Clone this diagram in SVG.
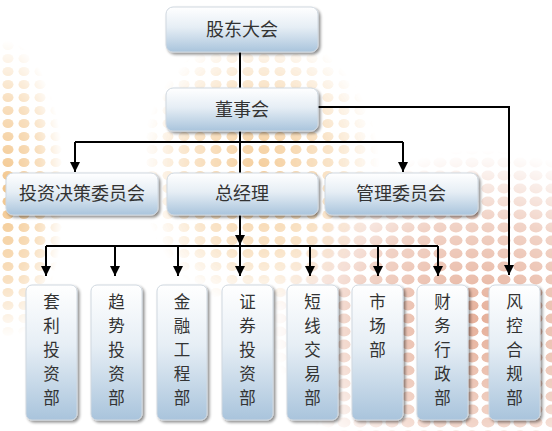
<svg xmlns="http://www.w3.org/2000/svg" width="552" height="431" viewBox="0 0 552 431">
<style>
.box{fill:url(#g);stroke:#d0d8e0;stroke-width:1;filter:url(#sh)}
.t{font-family:"Noto Sans CJK SC","Noto Sans CJK JP",sans-serif;font-size:18px;fill:#333;text-anchor:middle}
.v{font-family:"Noto Sans CJK SC","Noto Sans CJK JP",sans-serif;font-size:16.5px;fill:#333;text-anchor:middle}
.ln{fill:none;stroke:#000;stroke-width:2}
</style>
<defs>
<linearGradient id="g" x1="0" y1="0" x2="0" y2="1">
<stop offset="0" stop-color="#ffffff"/>
<stop offset="0.45" stop-color="#e6eef5"/>
<stop offset="1" stop-color="#a9c4dc"/>
</linearGradient>
<filter id="sh" x="-20%" y="-20%" width="150%" height="150%">
<feGaussianBlur in="SourceAlpha" stdDeviation="1.5"/>
<feOffset dx="2" dy="2" result="o"/>
<feComponentTransfer><feFuncA type="linear" slope="0.45"/></feComponentTransfer>
<feMerge><feMergeNode/><feMergeNode in="SourceGraphic"/></feMerge>
</filter>
<marker id="ar" viewBox="0 0 10 10" refX="10" refY="5" markerWidth="5" markerHeight="5" orient="auto">
<path d="M0,0 L10,5 L0,10 z" fill="#000"/>
</marker>
<pattern id="dotsO" width="16" height="13" patternUnits="userSpaceOnUse">
<ellipse cx="8" cy="6.5" rx="5.5" ry="4.5" fill="#f3c68c"/>
</pattern>
<pattern id="dotsP" width="16" height="13" patternUnits="userSpaceOnUse">
<ellipse cx="8" cy="6.5" rx="6.5" ry="5" fill="#e6b09a"/>
</pattern>
<radialGradient id="fade">
<stop offset="0" stop-color="#fff" stop-opacity="1"/>
<stop offset="0.6" stop-color="#fff" stop-opacity="0.55"/>
<stop offset="1" stop-color="#fff" stop-opacity="0"/>
</radialGradient>
<mask id="mR"><ellipse cx="480" cy="320" rx="210" ry="170" fill="url(#fade)"/></mask>
<mask id="mC"><ellipse cx="260" cy="170" rx="120" ry="140" fill="url(#fade)"/></mask>
<mask id="mL"><ellipse cx="5" cy="190" rx="60" ry="150" fill="url(#fade)"/></mask>
</defs>
<rect width="552" height="431" fill="#fff"/>
<g id="bg">
<rect width="552" height="431" fill="url(#dotsP)" mask="url(#mR)"/>
<rect width="552" height="431" fill="url(#dotsO)" mask="url(#mC)" opacity="0.85"/>
<rect width="552" height="431" fill="url(#dotsO)" mask="url(#mL)"/>
</g>
<g id="connectors">
<path class="ln" d="M240,52 V88"/>
<path class="ln" d="M240,131 V173"/>
<path class="ln" d="M75,142 H403"/>
<path class="ln" d="M75,142 V172" marker-end="url(#ar)"/>
<path class="ln" d="M403,142 V172" marker-end="url(#ar)"/>
<path class="ln" d="M318,107 H509 V275" marker-end="url(#ar)"/>
<path class="ln" d="M240,215 V245" marker-end="url(#ar)"/>
<path class="ln" d="M46,246 H438"/>
<path class="ln" d="M46,246 V276" marker-end="url(#ar)"/>
<path class="ln" d="M115,246 V276" marker-end="url(#ar)"/>
<path class="ln" d="M178,246 V276" marker-end="url(#ar)"/>
<path class="ln" d="M240,246 V276" marker-end="url(#ar)"/>
<path class="ln" d="M310,246 V276" marker-end="url(#ar)"/>
<path class="ln" d="M378,246 V276" marker-end="url(#ar)"/>
<path class="ln" d="M438,246 V276" marker-end="url(#ar)"/>
</g>
<g id="n1"><rect class="box" x="166" y="7" width="152" height="45" rx="7"/><text class="t" x="242" y="36">股东大会</text></g>
<g id="n2"><rect class="box" x="166" y="88" width="152" height="43" rx="7"/><text class="t" x="242" y="116">董事会</text></g>
<g id="n3"><rect class="box" x="6" y="173" width="152" height="42" rx="7"/><text class="t" x="82" y="200">投资决策委员会</text></g>
<g id="n4"><rect class="box" x="167" y="173" width="151" height="42" rx="7"/><text class="t" x="242" y="200">总经理</text></g>
<g id="n5"><rect class="box" x="325" y="173" width="153" height="42" rx="7"/><text class="t" x="401" y="200">管理委员会</text></g>
<g id="d1"><rect class="box" x="26" y="285" width="51" height="135" rx="6"/><text class="v"><tspan x="51.5" y="308">套</tspan><tspan x="51.5" y="332">利</tspan><tspan x="51.5" y="356">投</tspan><tspan x="51.5" y="380">资</tspan><tspan x="51.5" y="404">部</tspan></text></g>
<g id="d2"><rect class="box" x="91" y="285" width="51" height="135" rx="6"/><text class="v"><tspan x="116.5" y="308">趋</tspan><tspan x="116.5" y="332">势</tspan><tspan x="116.5" y="356">投</tspan><tspan x="116.5" y="380">资</tspan><tspan x="116.5" y="404">部</tspan></text></g>
<g id="d3"><rect class="box" x="157" y="285" width="50" height="135" rx="6"/><text class="v"><tspan x="182" y="308">金</tspan><tspan x="182" y="332">融</tspan><tspan x="182" y="356">工</tspan><tspan x="182" y="380">程</tspan><tspan x="182" y="404">部</tspan></text></g>
<g id="d4"><rect class="box" x="222" y="285" width="51" height="135" rx="6"/><text class="v"><tspan x="247.5" y="308">证</tspan><tspan x="247.5" y="332">券</tspan><tspan x="247.5" y="356">投</tspan><tspan x="247.5" y="380">资</tspan><tspan x="247.5" y="404">部</tspan></text></g>
<g id="d5"><rect class="box" x="287" y="285" width="51" height="135" rx="6"/><text class="v"><tspan x="312.5" y="308">短</tspan><tspan x="312.5" y="332">线</tspan><tspan x="312.5" y="356">交</tspan><tspan x="312.5" y="380">易</tspan><tspan x="312.5" y="404">部</tspan></text></g>
<g id="d6"><rect class="box" x="352" y="285" width="51" height="135" rx="6"/><text class="v"><tspan x="377.5" y="308">市</tspan><tspan x="377.5" y="332">场</tspan><tspan x="377.5" y="356">部</tspan></text></g>
<g id="d7"><rect class="box" x="417" y="285" width="51" height="135" rx="6"/><text class="v"><tspan x="442.5" y="308">财</tspan><tspan x="442.5" y="332">务</tspan><tspan x="442.5" y="356">行</tspan><tspan x="442.5" y="380">政</tspan><tspan x="442.5" y="404">部</tspan></text></g>
<g id="d8"><rect class="box" x="489" y="285" width="51" height="135" rx="6"/><text class="v"><tspan x="514.5" y="308">风</tspan><tspan x="514.5" y="332">控</tspan><tspan x="514.5" y="356">合</tspan><tspan x="514.5" y="380">规</tspan><tspan x="514.5" y="404">部</tspan></text></g>
</svg>
